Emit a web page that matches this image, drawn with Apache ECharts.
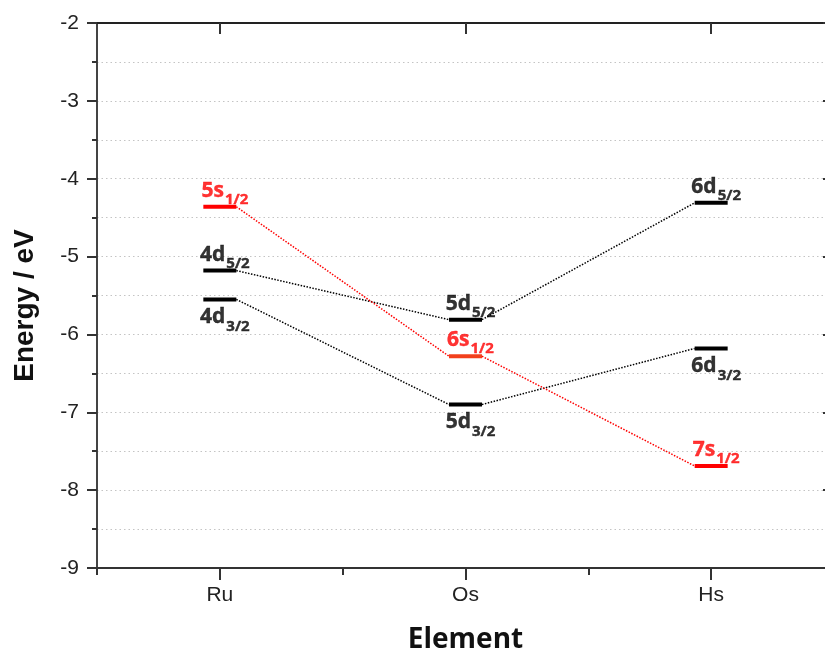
<!DOCTYPE html>
<html>
<head>
<meta charset="utf-8">
<script src="https://cdn.jsdelivr.net/npm/echarts@6/dist/echarts.min.js"></script>
<style>
  html, body { margin: 0; padding: 0; background: #fff; }
  #chart { width: 825px; height: 650px; }
</style>
</head>
<body>
<div id="chart"></div>
<script>
// Elements along the x axis
const elements = ['Ru', 'Os', 'Hs'];

// Orbital energies (eV) per element
const levelS   = [-4.36, -6.28, -7.69];   // ns1/2
const levelD52 = [-5.18, -5.81, -4.31];   // (n-1)d5/2
const levelD32 = [-5.55, -6.90, -6.18];   // (n-1)d3/2

// Level labels: [main text, subscript]
const labelS   = [['5s', '1/2'], ['6s', '1/2'], ['7s', '1/2']];
const labelD52 = [['4d', '5/2'], ['5d', '5/2'], ['6d', '5/2']];
const labelD32 = [['4d', '3/2'], ['5d', '3/2'], ['6d', '3/2']];

// Y axis range and ticks
const yMin = -9, yMax = -2, yStep = 1;

const BAR_HALF = 16.5;   // half length of a level bar in px
const BAR_THICK = 4;

const chart = echarts.init(document.getElementById('chart'));

function richFor(color) {
  const common = { color: color, fontFamily: 'Open Sans', fontWeight: 'bold', textBorderColor: color, textBorderWidth: 0.4, verticalAlign: 'top' };
  return {
    m: Object.assign({ fontSize: 21, lineHeight: 24 }, common),
    s: Object.assign({ fontSize: 15, lineHeight: 17, padding: [12, 0, 0, 1] }, common)
  };
}

// Horizontal level bars plus dotted connectors to the next element
function levelSeries(values, color, barColors) {
  return {
    type: 'custom',
    coordinateSystem: 'cartesian2d',
    data: values.map((v, i) => [i, v]),
    z: 3,
    renderItem: function (params, api) {
      const i = params.dataIndex;
      const p = api.coord([i, values[i]]);
      const children = [{
        type: 'rect',
        shape: { x: p[0] - BAR_HALF, y: p[1] - BAR_THICK / 2, width: BAR_HALF * 2, height: BAR_THICK },
        style: { fill: barColors ? barColors[i] : color }
      }];
      if (i < values.length - 1) {
        const q = api.coord([i + 1, values[i + 1]]);
        children.push({
          type: 'line',
          shape: { x1: p[0] + BAR_HALF, y1: p[1], x2: q[0] - BAR_HALF, y2: q[1] },
          style: { stroke: color, lineWidth: 1.5, lineDash: [1.5, 1.5] }
        });
      }
      return { type: 'group', children: children };
    }
  };
}

// Text labels attached to each level
function labelSeries(values, labels, color, above) {
  return {
    type: 'scatter',
    symbolSize: 1,
    itemStyle: { color: 'rgba(0,0,0,0)' },
    z: 4,
    data: values.map((v, i) => [i, v]),
    label: {
      show: true,
      position: above ? 'top' : 'bottom',
      distance: above ? 2 : 7,
      offset: [5, 0],
      color: color,
      formatter: function (p) {
        const l = labels[p.dataIndex];
        return '{m|' + l[0] + '}{s|' + l[1] + '}';
      },
      rich: richFor(color)
    }
  };
}

const tickFont = { fontFamily: 'Liberation Sans, Arial, sans-serif', fontSize: 21, color: '#222' };

chart.setOption({
  animation: false,
  backgroundColor: '#fff',
  grid: { left: 97, top: 23, right: -9, bottom: 82, containLabel: false, outerBoundsMode: 'none' },
  xAxis: [
    {
      type: 'category',
      data: elements,
      position: 'bottom',
      boundaryGap: true,
      axisLine: { show: true, lineStyle: { color: '#333', width: 2 } },
      axisTick: { show: true, alignWithLabel: true, length: 12, lineStyle: { color: '#333', width: 2 } },
      axisLabel: Object.assign({ margin: 17 }, tickFont),
      splitLine: { show: false },
      name: 'Element',
      nameLocation: 'middle',
      nameGap: 58,
      nameTextStyle: { fontFamily: 'Open Sans', fontWeight: 'bold', fontSize: 28, color: '#111' }
    },
    {
      // boundary ticks between elements
      type: 'category',
      data: elements,
      position: 'bottom',
      boundaryGap: true,
      axisLine: { show: false },
      axisTick: { show: true, length: 7, lineStyle: { color: '#333', width: 2 } },
      axisLabel: { show: false },
      splitLine: { show: false }
    },
    {
      type: 'category',
      data: elements,
      position: 'top',
      boundaryGap: true,
      axisLine: { show: true, lineStyle: { color: '#222', width: 2 } },
      axisTick: { show: true, alignWithLabel: true, inside: true, length: 11, lineStyle: { color: '#333', width: 2 } },
      axisLabel: { show: false },
      splitLine: { show: false }
    }
  ],
  yAxis: [
    {
      type: 'value',
      min: yMin, max: yMax, interval: yStep,
      position: 'left',
      axisLine: { show: true, lineStyle: { color: '#444', width: 2 } },
      axisTick: { show: true, length: 10, lineStyle: { color: '#333', width: 2 } },
      minorTick: { show: true, splitNumber: 2, length: 5, lineStyle: { color: '#333', width: 2 } },
      axisLabel: Object.assign({ margin: 18 }, tickFont),
      splitLine: { show: true, lineStyle: { color: '#c4c4c4', width: 1, type: [1.5, 3] } },
      minorSplitLine: { show: true, lineStyle: { color: '#c4c4c4', width: 1, type: [1.5, 3] } },
      name: 'Energy / eV',
      nameLocation: 'middle',
      nameGap: 58,
      nameTextStyle: { fontFamily: 'Liberation Sans, Arial, sans-serif', fontWeight: 'bold', fontSize: 28, color: '#111', padding: [0, 20, 0, 0] }
    },
    {
      type: 'value',
      min: yMin, max: yMax, interval: yStep,
      position: 'right',
      axisLine: { show: true, lineStyle: { color: '#333', width: 2 } },
      axisTick: { show: true, inside: true, length: 11, lineStyle: { color: '#333', width: 2 } },
      minorTick: { show: true, splitNumber: 2, length: 6, lineStyle: { color: '#333', width: 2 } },
      axisLabel: { show: false },
      splitLine: { show: false }
    }
  ],
  series: [
    levelSeries(levelD52, '#000'),
    levelSeries(levelD32, '#000'),
    levelSeries(levelS, '#ff0000', ['#ff0000', '#f2401c', '#ff0000']),
    labelSeries(levelS, labelS, '#ff0000', true),
    labelSeries(levelD52, labelD52, '#000', true),
    labelSeries(levelD32, labelD32, '#000', false)
  ]
});
</script>
</body>
</html>
